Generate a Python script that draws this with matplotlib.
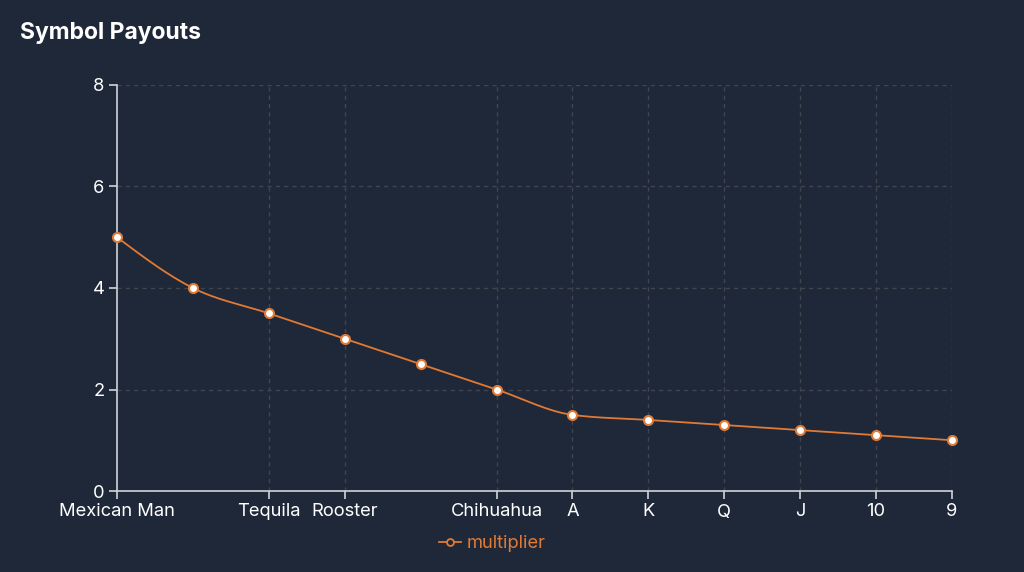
import numpy as np
import matplotlib
matplotlib.use("Agg")
import matplotlib.pyplot as plt
from matplotlib.lines import Line2D

plt.rcParams['font.family'] = ['Inter', 'DejaVu Sans']

# symbols in pay order; two labels are not shown on the axis in the reference
symbols = ['Mexican Man', '', 'Tequila', 'Rooster', '', 'Chihuahua',
           'A', 'K', 'Q', 'J', '10', '9']
multiplier = [5, 4, 3.5, 3, 2.5, 2, 1.5, 1.4, 1.3, 1.2, 1.1, 1.0]
y_ticks = [0, 2, 4, 6, 8]

bg = '#1f2838'
orange = '#e07a35'
grid_col = '#41454d'
axis_col = '#d0d4da'


def monotone_curve(x, y, steps=30):
    # d3 curveMonotoneX style smoothing
    x = np.asarray(x, float)
    y = np.asarray(y, float)
    n = len(x)
    h = np.diff(x)
    s = np.diff(y) / h
    t = np.zeros(n)
    for i in range(1, n - 1):
        p = (s[i - 1] * h[i] + s[i] * h[i - 1]) / (h[i - 1] + h[i])
        t[i] = (np.sign(s[i - 1]) + np.sign(s[i])) * min(abs(s[i - 1]), abs(s[i]), 0.5 * abs(p))
    t[0] = (3 * s[0] - t[1]) / 2
    t[-1] = (3 * s[-1] - t[-2]) / 2
    xs, ys = [], []
    u = np.linspace(0, 1, steps)
    for i in range(n - 1):
        dx = h[i] / 3
        px = [x[i], x[i] + dx, x[i + 1] - dx, x[i + 1]]
        py = [y[i], y[i] + dx * t[i], y[i + 1] - dx * t[i + 1], y[i + 1]]
        b = [(1 - u) ** 3, 3 * (1 - u) ** 2 * u, 3 * (1 - u) * u ** 2, u ** 3]
        xs.extend(sum(b[k] * px[k] for k in range(4)))
        ys.extend(sum(b[k] * py[k] for k in range(4)))
    return np.array(xs), np.array(ys)


xpos = np.arange(len(symbols))
fig = plt.figure(figsize=(10.24, 5.72), dpi=100, facecolor=bg)
ax = fig.add_axes([117 / 1024, 81 / 572, 835 / 1024, 406 / 572])
ax.set_facecolor(bg)

shown = [i for i, s in enumerate(symbols) if s]

# grid
for yv in y_ticks[1:]:
    ax.axhline(yv, color=grid_col, lw=1, ls=(0, (3, 3)), zorder=0)
for i in shown[1:]:
    ax.axvline(xpos[i], color=grid_col, lw=1, ls=(0, (3, 3)), zorder=0)

cx, cy = monotone_curve(xpos, multiplier)
ax.plot(cx, cy, color=orange, lw=1.3, zorder=3, clip_on=False)
ax.plot(xpos, multiplier, ls='none', marker='o', ms=6.5, mfc='white',
        mec=orange, mew=1.5, zorder=4, clip_on=False)

ax.set_xlim(0, len(symbols) - 1)
ax.set_ylim(0, 8)
ax.set_xticks(xpos[shown])
ax.set_xticklabels([symbols[i] for i in shown])
ax.set_yticks(y_ticks)

for side in ['top', 'right']:
    ax.spines[side].set_visible(False)
for side in ['left', 'bottom']:
    ax.spines[side].set_color(axis_col)
    ax.spines[side].set_linewidth(1.2)
ax.tick_params(colors=axis_col, labelcolor='white', labelsize=13.2,
               length=6, width=1.2, pad=3)

fig.text(20 / 1024, 1 - 33 / 572, 'Symbol Payouts', color='white',
         fontsize=16.5, fontweight='bold', va='center', ha='left')

handle = Line2D([], [], color=orange, lw=1.3, marker='o', ms=5,
                mfc=bg, mec=orange, mew=1.3)
leg = fig.legend([handle], ['multiplier'], loc='center',
                 bbox_to_anchor=(492 / 1024, 28 / 572), frameon=False,
                 fontsize=13.2, handlelength=1.2, handletextpad=0.3)
for txt in leg.get_texts():
    txt.set_color(orange)

fig.savefig('out.png', dpi=100, facecolor=bg)
